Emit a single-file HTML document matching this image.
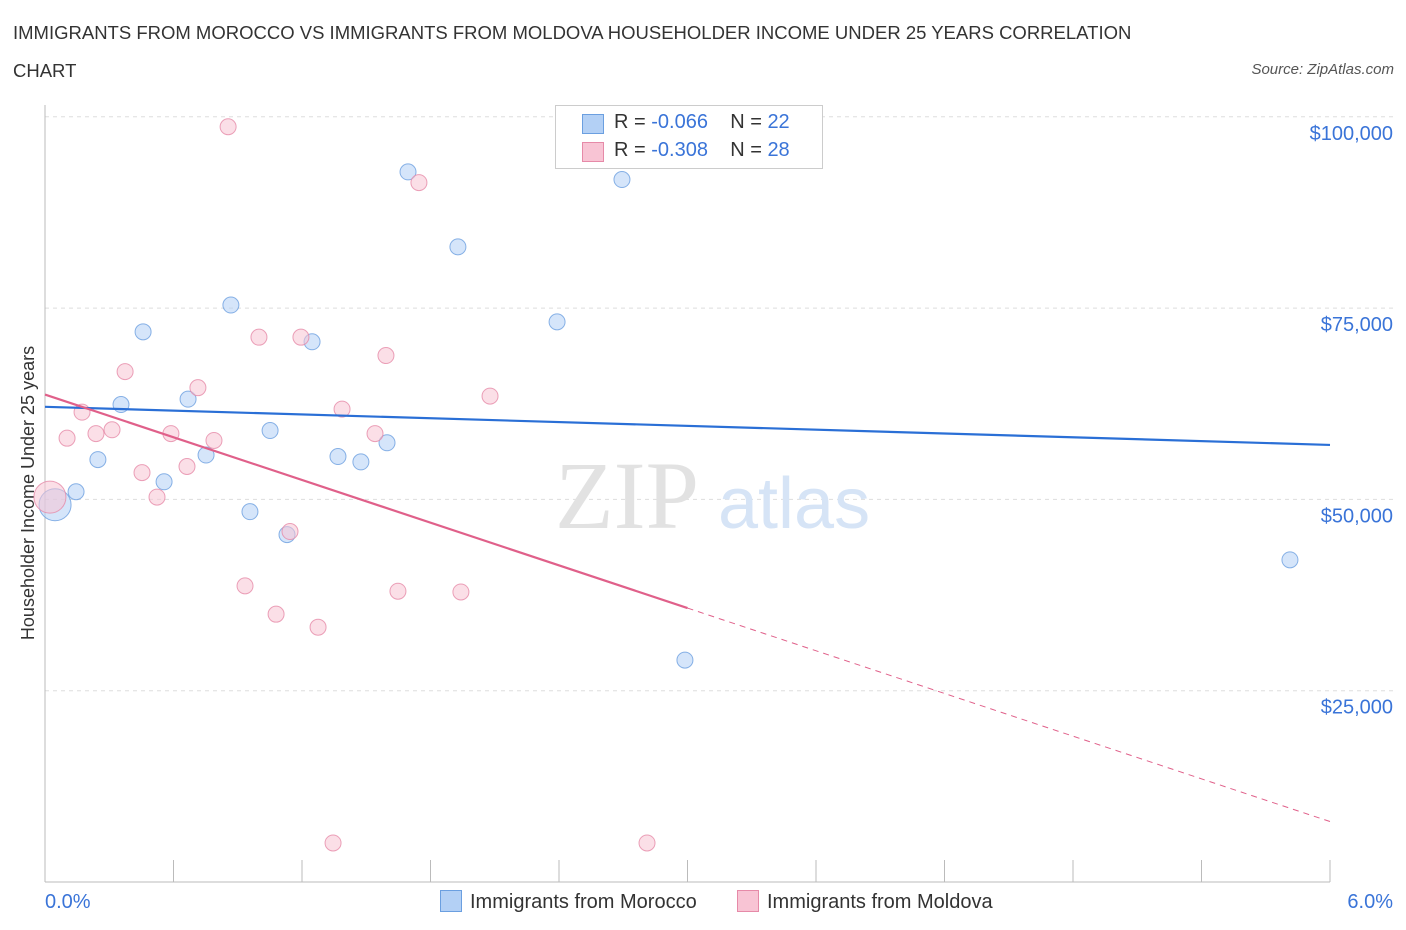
<!DOCTYPE html>
<html><head><meta charset="utf-8"><style>
body{margin:0;background:#fff;font-family:"Liberation Sans",sans-serif;}
#wrap{position:relative;width:1406px;height:930px;overflow:hidden;}
.t{position:absolute;}
</style></head><body>
<div id="wrap">
<div class="t" style="left:13px;top:14px;font-size:18.5px;color:#333;line-height:38px;width:1160px">IMMIGRANTS FROM MOROCCO VS IMMIGRANTS FROM MOLDOVA HOUSEHOLDER INCOME UNDER 25 YEARS CORRELATION CHART</div>
<div class="t" style="right:12px;top:61px;font-size:15px;color:#555;font-style:italic">Source: ZipAtlas.com</div>
<svg id="svg" width="1406" height="930" style="position:absolute;left:0;top:0"></svg>
</div>
<script>
const blueX=[0.047,0.145,0.247,0.355,0.458,0.556,0.668,0.752,0.868,0.957,1.051,1.130,1.247,1.368,1.475,1.597,1.695,1.928,2.391,2.694,2.988,5.813];
const blueY=[49.3,51.0,55.2,62.4,71.9,52.3,63.1,55.8,75.4,48.4,59.0,45.4,70.6,55.6,54.9,57.4,92.8,83.0,73.2,91.8,29.0,42.1];
const pinkX=[0.023,0.103,0.173,0.238,0.313,0.374,0.453,0.523,0.588,0.663,0.714,0.789,0.855,0.934,0.999,1.079,1.144,1.195,1.275,1.345,1.387,1.541,1.592,1.648,1.746,1.942,2.078,2.811];
const pinkY=[50.3,58.0,61.4,58.6,59.1,66.7,53.5,50.3,58.6,54.3,64.6,57.7,98.7,38.7,71.2,35.0,45.8,71.2,33.3,5.1,61.8,58.6,68.8,38.0,91.4,37.9,63.5,5.1];
const blueTrend=[62.1,-0.83];
const pinkTrend=[63.7,-9.3];
const yTicks=[25,50,75,100];
const yTickLabels=["$25,000","$50,000","$75,000","$100,000"];
const xTicks=[0,0.6,1.2,1.8,2.4,3.0,3.6,4.2,4.8,5.4,6.0];

const NS="http://www.w3.org/2000/svg";
const svg=document.getElementById('svg');
const X=v=>45+v/6*1285;
const Y=v=>882-v*7.652;
function el(tag,attrs,parent){const e=document.createElementNS(NS,tag);for(const k in attrs)e.setAttribute(k,attrs[k]);(parent||svg).appendChild(e);return e;}

yTicks.forEach((t,i)=>{
 const g=el('line',{x1:45,x2:1395,y1:Y(t),y2:Y(t),stroke:'#dddddd','stroke-dasharray':'4,4'});
 
 
 const tx=el('text',{x:1393,y:Y(t)+23,'text-anchor':'end','font-size':20,fill:'#3a74d8','font-family':'Liberation Sans, sans-serif'});
 tx.textContent=yTickLabels[i];
 
 
});
const ya=el('line',{x1:45,x2:45,y1:105,y2:882,stroke:'#bbb'});


const xa=el('line',{x1:45,x2:1330,y1:882,y2:882,stroke:'#bbb'});


xTicks.forEach(t=>{
 const l=el('line',{x1:X(t),x2:X(t),y1:860,y2:882,stroke:'#bbb'});
 
 
});
[[0,"0.0%","start",45],[6,"6.0%","end",1393]].forEach(a=>{
 const t=el('text',{x:a[3],y:908,'text-anchor':a[2],'font-size':20,fill:'#3a74d8','font-family':'Liberation Sans, sans-serif'});
 t.textContent=a[1];
 
 
});
const yt=el('text',{x:0,y:0,transform:'translate(34,493) rotate(-90)','text-anchor':'middle','font-size':18,fill:'#333','font-family':'Liberation Sans, sans-serif'});
yt.textContent='Householder Income Under 25 years';


const wm=el('text',{x:555,y:528,'font-size':96,fill:'#e2e2e2','font-family':'Liberation Serif, serif'});
wm.textContent='ZIP';


const wm2=el('text',{x:718,y:528,'font-size':72,fill:'#d6e4f6','font-family':'Liberation Sans, sans-serif'});
wm2.textContent='atlas';



function dots(xs,ys,fill,stroke,name){
 xs.forEach((x,i)=>{
  const r=(i===0)?16:8;
  const c=el('circle',{cx:X(x),cy:Y(ys[i]),r:r,fill:fill,'fill-opacity':0.55,stroke:stroke,'stroke-width':1,'stroke-opacity':0.8});
  
  
 });
}
dots(blueX,blueY,'#b3d0f5','#6b9fe0','morocco-point');
dots(pinkX,pinkY,'#f8c4d4','#e68aa8','moldova-point');

const bl=el('line',{x1:X(0),y1:Y(blueTrend[0]),x2:X(6),y2:Y(blueTrend[0]+blueTrend[1]*6),stroke:'#2a6fd6','stroke-width':2.2});


const pl=el('line',{x1:X(0),y1:Y(pinkTrend[0]),x2:X(3),y2:Y(pinkTrend[0]+pinkTrend[1]*3),stroke:'#e0608a','stroke-width':2.2});


const pd=el('line',{x1:X(3),y1:Y(pinkTrend[0]+pinkTrend[1]*3),x2:X(6),y2:Y(pinkTrend[0]+pinkTrend[1]*6),stroke:'#e0608a','stroke-width':1,'stroke-dasharray':'6,5'});


</script>
<div class="t" style="left:555px;top:105px;width:266px;height:62px;border:1px solid #ccc;background:#fff;font-size:20px;color:#333">
 <div style="position:absolute;left:26px;top:8px;width:20px;height:18px;background:#b3d0f5;border:1px solid #6b9fe0"></div>
 <div style="position:absolute;left:58px;top:5px">R = <span style="color:#3a74d8">-0.066</span>&nbsp;&nbsp;&nbsp; N = <span style="color:#3a74d8">22</span></div>
 <div style="position:absolute;left:26px;top:36px;width:20px;height:18px;background:#f8c4d4;border:1px solid #e68aa8"></div>
 <div style="position:absolute;left:58px;top:33px">R = <span style="color:#3a74d8">-0.308</span>&nbsp;&nbsp;&nbsp; N = <span style="color:#3a74d8">28</span></div>
</div>
<div class="t" style="left:440px;top:890px;font-size:20px;color:#333">
 <span style="display:inline-block;width:20px;height:20px;background:#b3d0f5;border:1px solid #6b9fe0;vertical-align:-4px;margin-right:8px"></span>Immigrants from Morocco</div>
<div class="t" style="left:737px;top:890px;font-size:20px;color:#333">
 <span style="display:inline-block;width:20px;height:20px;background:#f8c4d4;border:1px solid #e68aa8;vertical-align:-4px;margin-right:8px"></span>Immigrants from Moldova</div>
</body></html>
